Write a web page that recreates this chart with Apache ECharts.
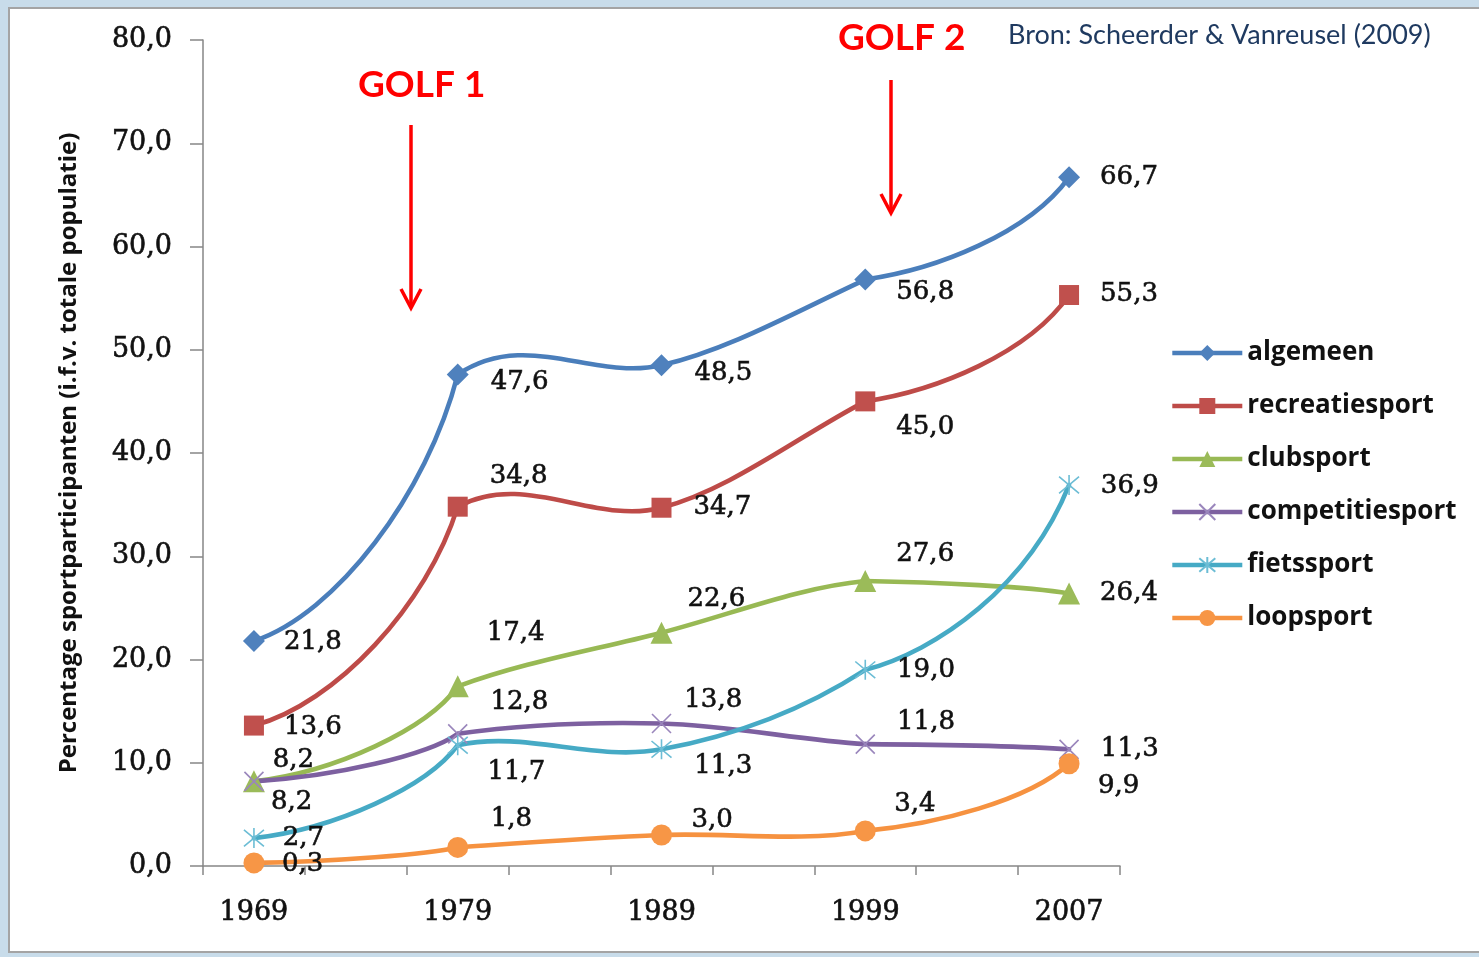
<!DOCTYPE html>
<html><head><meta charset="utf-8">
<script src="https://cdn.jsdelivr.net/npm/echarts@6/dist/echarts.min.js"></script>
<style>html,body{margin:0;padding:0;background:#c8dcea}#c{width:1479px;height:957px}</style>
</head><body><div id="c"></div>
<script>
// ---- data ----
const years = ['1969', '1979', '1989', '1999', '2007'];
const seriesNames = ['algemeen', 'recreatiesport', 'clubsport', 'competitiesport', 'fietssport', 'loopsport'];
const algemeen = [21.8, 47.6, 48.5, 56.8, 66.7];
const recreatiesport = [13.6, 34.8, 34.7, 45.0, 55.3];
const clubsport = [8.2, 17.4, 22.6, 27.6, 26.4];
const competitiesport = [8.2, 12.8, 13.8, 11.8, 11.3];
const fietssport = [2.7, 11.7, 11.3, 19.0, 36.9];
const loopsport = [0.3, 1.8, 3.0, 3.4, 9.9];
const annotations = ['GOLF 1', 'GOLF 2'];
const sourceText = 'Bron: Scheerder & Vanreusel (2009)';
const yAxisTitle = 'Percentage sportparticipanten (i.f.v. totale populatie)';

// ---- styles ----
const X_PATH = 'path://M0 0 L10 10 M10 0 L0 10';
const STAR_PATH = 'path://M0 0 L10 10 M10 0 L0 10 M5 -1 L5 11';
const styles = {
  algemeen: {color: '#4A7EBB', mark: '#4F81BD', symbol: 'diamond', size: 22},
  recreatiesport: {color: '#BE4B48', mark: '#C0504D', symbol: 'rect', size: 20},
  clubsport: {color: '#98B954', mark: '#9BBB59', symbol: 'triangle', size: 22},
  competitiesport: {color: '#7D60A0', mark: '#9a86bc', symbol: X_PATH, size: 19, stroke: true},
  fietssport: {color: '#46AAC5', mark: '#6cbdd5', symbol: STAR_PATH, size: 20, stroke: true},
  loopsport: {color: '#F69240', mark: '#F79646', symbol: 'circle', size: 21}
};
const labelShift = {
  algemeen: [[30, 1], [33, 8], [33, 8], [31, 13], [31, 0]],
  recreatiesport: [[30, 2], [32, -30], [32, 0], [31, 26], [31, -1]],
  clubsport: [[17, 21], [29, -53], [26, -33], [31, -27], [31, 0]],
  competitiesport: [[18, -21], [32, -32], [22, -23], [31, -22], [31, 0]],
  fietssport: [[28, 0], [29, 27], [32, 17], [31, 0], [31, 1]],
  loopsport: [[28, 1], [33, -28], [30, -15], [29, -27], [29, 22]]
};
const values = {algemeen, recreatiesport, clubsport, competitiesport, fietssport, loopsport};
const LINE_W = 4.6;
// curve-shape factors (Excel-like look): interior tension and end-segment arms
const TENSION = 1 / 6;
const FIRST_OUT = [0.4, 0.1], FIRST_IN = [0.15, 0.45];
const LAST_OUT = [0.35, 0.1], LAST_IN = [0.2, 0.55];

const axisCats = [];
years.forEach((y, i) => { axisCats.push(y); if (i < years.length - 1) axisCats.push(''); });

const fmt = v => v.toFixed(1).replace('.', ',');

function curveSeries(name) {
  const vals = values[name];
  const st = styles[name];
  const n = vals.length;
  return {
    name: name + ' (curve)',
    type: 'custom',
    silent: true,
    clip: false,
    data: vals.map((v, i) => [i * 2, v]),
    encode: {x: 0, y: 1},
    renderItem: (params, api) => {
      const i = params.dataIndex;
      if (i >= n - 1) return null;
      const pt = k => api.coord([k * 2, vals[k]]);
      const p1 = pt(i), p2 = pt(i + 1);
      const dx = p2[0] - p1[0], dy = p2[1] - p1[1];
      let out, inn;
      if (i === 0) {
        out = [dx * FIRST_OUT[0], dy * FIRST_OUT[1]];
      } else if (i === n - 2) {
        out = [dx * LAST_OUT[0], dy * LAST_OUT[1]];
      } else {
        const p0 = pt(i - 1);
        out = [(p2[0] - p0[0]) * TENSION, (p2[1] - p0[1]) * TENSION];
      }
      if (i === 0) {
        inn = [dx * FIRST_IN[0], dy * FIRST_IN[1]];
      } else if (i === n - 2) {
        inn = [dx * LAST_IN[0], dy * LAST_IN[1]];
      } else {
        const p3 = pt(i + 2);
        inn = [(p3[0] - p1[0]) * TENSION, (p3[1] - p1[1]) * TENSION];
      }
      return {
        type: 'bezierCurve',
        shape: {
          x1: p1[0], y1: p1[1], x2: p2[0], y2: p2[1],
          cpx1: p1[0] + out[0], cpy1: p1[1] + out[1],
          cpx2: p2[0] - inn[0], cpy2: p2[1] - inn[1]
        },
        style: {stroke: st.color, lineWidth: LINE_W, fill: null, lineCap: 'round'}
      };
    }
  };
}

const series = [];
seriesNames.forEach(name => {
  const st = styles[name];
  series.push(curveSeries(name));
  series.push({
    name,
    type: 'line',
    symbol: st.symbol,
    symbolSize: st.size,
    lineStyle: {color: st.color, width: LINE_W, opacity: 0},
    itemStyle: st.stroke
      ? {color: st.mark, borderColor: st.mark, borderWidth: 1.6}
      : {color: st.mark, borderWidth: 0},
    label: {
      show: true,
      position: 'right',
      distance: 0,
      fontFamily: 'DejaVu Serif',
      fontSize: 26,
      color: '#111',
      textBorderColor: '#111',
      textBorderWidth: 0.6,
      formatter: p => fmt(p.value[1])
    },
    emphasis: {disabled: true},
    data: values[name].map((v, i) => ({
      value: [i * 2, v],
      label: {offset: [labelShift[name][i][0] - st.size / 2, labelShift[name][i][1]]}
    }))
  });
});

const chart = echarts.init(document.getElementById('c'));
chart.setOption({
  backgroundColor: '#c8dcea',
  animation: false,
  grid: {left: 203, right: 359, top: 40, bottom: 91},
  xAxis: {
    type: 'category',
    data: axisCats,
    boundaryGap: true,
    axisLine: {lineStyle: {color: '#868686', width: 1.5}},
    axisTick: {show: true, interval: 0, length: 9, lineStyle: {color: '#868686', width: 1.5}},
    axisLabel: {interval: 0, margin: 33, fontFamily: 'DejaVu Serif', fontSize: 27, color: '#111',
      textBorderColor: '#111', textBorderWidth: 0.6},
    splitLine: {show: false}
  },
  yAxis: {
    type: 'value',
    min: 0, max: 80, interval: 10,
    name: yAxisTitle,
    nameLocation: 'middle',
    nameRotate: 90,
    nameGap: 122,
    nameTextStyle: {fontFamily: 'Open Sans', fontWeight: 'bold', fontSize: 24, color: '#111'},
    axisLine: {show: true, lineStyle: {color: '#868686', width: 1.5}},
    axisTick: {show: true, length: 13, lineStyle: {color: '#868686', width: 1.5}},
    axisLabel: {margin: 31, fontFamily: 'DejaVu Serif', fontSize: 27, color: '#111',
      textBorderColor: '#111', textBorderWidth: 0.6, formatter: v => fmt(v)},
    splitLine: {show: false}
  },
  legend: {
    orient: 'vertical',
    left: 1170,
    top: 339,
    padding: 0,
    itemWidth: 70,
    itemHeight: 20,
    itemGap: 25,
    data: seriesNames,
    lineStyle: {opacity: 1, width: LINE_W},
    textStyle: {fontFamily: 'Open Sans', fontWeight: 'bold', fontSize: 26, lineHeight: 28, color: '#111'}
  },
  graphic: [
    {type: 'rect', z: -10, silent: true, shape: {x: 9, y: 8, width: 1475, height: 944},
     style: {fill: '#ffffff', stroke: '#a4a4a4', lineWidth: 2}},
    {type: 'text', z: 10, left: 358, top: 67, style: {text: annotations[0], fill: '#ff0000', font: 'bold 37px Lato'}},
    {type: 'text', z: 10, left: 838, top: 20, style: {text: annotations[1], fill: '#ff0000', font: 'bold 37px Lato'}},
    {type: 'text', z: 10, left: 1008, top: 22, style: {text: sourceText, fill: '#1f3a60', font: '27px Lato'}},
    {type: 'line', z: 10, shape: {x1: 411, y1: 125, x2: 411, y2: 307}, style: {stroke: '#ff0000', lineWidth: 3.5}},
    {type: 'polyline', z: 10, shape: {points: [[401, 289], [411, 308], [421, 289]]}, style: {stroke: '#ff0000', lineWidth: 3.5, fill: null}},
    {type: 'line', z: 10, shape: {x1: 891, y1: 80, x2: 891, y2: 212}, style: {stroke: '#ff0000', lineWidth: 3.5}},
    {type: 'polyline', z: 10, shape: {points: [[881, 194], [891, 213], [901, 194]]}, style: {stroke: '#ff0000', lineWidth: 3.5, fill: null}}
  ],
  series
});
</script>
</body></html>
